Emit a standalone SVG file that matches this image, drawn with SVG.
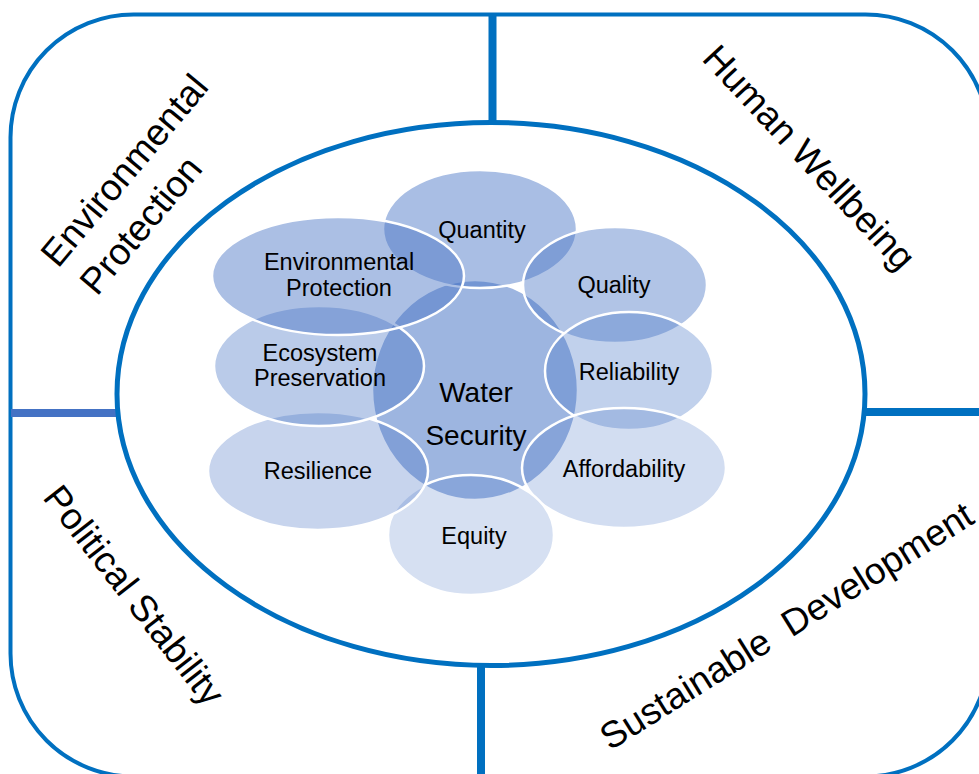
<svg xmlns="http://www.w3.org/2000/svg" width="979" height="774" viewBox="0 0 979 774">
  <style>
    .frame { fill: none; stroke: #0070C0; stroke-width: 4; }
    .ring { fill: none; stroke: #0070C0; stroke-width: 5; }
    .divider { stroke: #0070C0; stroke-width: 8; }
    .divider-left { stroke: #4472C4; stroke-width: 8; }
    .petal { fill: #4472C4; stroke: #FFFFFF; stroke-width: 2.5; }
    .label { font-family: "Liberation Sans", Arial, sans-serif; font-size: 23.5px; fill: #000000; text-anchor: middle; }
    .core { font-family: "Liberation Sans", Arial, sans-serif; font-size: 28px; fill: #000000; text-anchor: middle; }
    .quadrant { font-family: "Liberation Sans", Arial, sans-serif; font-size: 37px; fill: #000000; }
  </style>
  <rect width="979" height="774" fill="#FFFFFF"/>

  <!-- outer frame split into four quadrants -->
  <g id="frame">
    <rect class="frame" x="10.5" y="14.5" width="978" height="762" rx="123" ry="123"/>
    <line class="divider" x1="492.5" y1="14" x2="492.5" y2="123"/>
    <line class="divider-left" x1="11" y1="413" x2="118" y2="413"/>
    <line class="divider" x1="864" y1="412" x2="979" y2="412"/>
    <line class="divider" x1="481" y1="665" x2="481" y2="774"/>
    <ellipse class="ring" cx="491" cy="394" rx="374" ry="271.5"/>
  </g>

  <!-- quadrant headings -->
  <g id="q-environment">
    <text class="quadrant" transform="translate(58,269) rotate(-50)">Environmental</text>
    <text class="quadrant" transform="translate(97,297) rotate(-50)">Protection</text>
  </g>
  <g id="q-human">
    <text class="quadrant" text-anchor="middle" transform="translate(800,166) rotate(47)">Human Wellbeing</text>
  </g>
  <g id="q-political">
    <text class="quadrant" text-anchor="middle" transform="translate(124,603) rotate(52)">Political Stability</text>
  </g>
  <g id="q-sustainable">
    <text class="quadrant" xml:space="preserve" transform="translate(610,751) rotate(-32)">Sustainable  Development</text>
  </g>

  <!-- overlapping petals, drawn in cycle order -->
  <g id="water-security">
    <ellipse class="petal" cx="475" cy="390" rx="103" ry="110" fill-opacity="0.52"/>
    <text class="core" x="476" y="402">Water</text>
    <text class="core" x="476" y="445">Security</text>
  </g>
  <g id="quantity">
    <ellipse class="petal" cx="480" cy="229" rx="97" ry="59" fill-opacity="0.46"/>
    <text class="label" x="482" y="238">Quantity</text>
  </g>
  <g id="quality">
    <ellipse class="petal" cx="615" cy="285" rx="92" ry="58" fill-opacity="0.42"/>
    <text class="label" x="614" y="293">Quality</text>
  </g>
  <g id="reliability">
    <ellipse class="petal" cx="629" cy="371" rx="84" ry="59" fill-opacity="0.33"/>
    <text class="label" x="629" y="380">Reliability</text>
  </g>
  <g id="affordability">
    <ellipse class="petal" cx="624" cy="468" rx="102" ry="60" fill-opacity="0.24"/>
    <text class="label" x="624" y="477">Affordability</text>
  </g>
  <g id="equity">
    <ellipse class="petal" cx="471" cy="535" rx="83" ry="60" fill-opacity="0.22"/>
    <text class="label" x="474" y="544">Equity</text>
  </g>
  <g id="resilience">
    <ellipse class="petal" cx="318" cy="471" rx="110" ry="59" fill-opacity="0.30"/>
    <text class="label" x="318" y="479">Resilience</text>
  </g>
  <g id="ecosystem">
    <ellipse class="petal" cx="319" cy="366" rx="105" ry="60" fill-opacity="0.37"/>
    <text class="label" x="320" y="361">Ecosystem</text>
    <text class="label" x="320" y="386">Preservation</text>
  </g>
  <g id="environmental-protection">
    <ellipse class="petal" cx="338" cy="276" rx="126" ry="59" fill-opacity="0.45"/>
    <text class="label" x="339" y="270">Environmental</text>
    <text class="label" x="339" y="296">Protection</text>
  </g>
</svg>
